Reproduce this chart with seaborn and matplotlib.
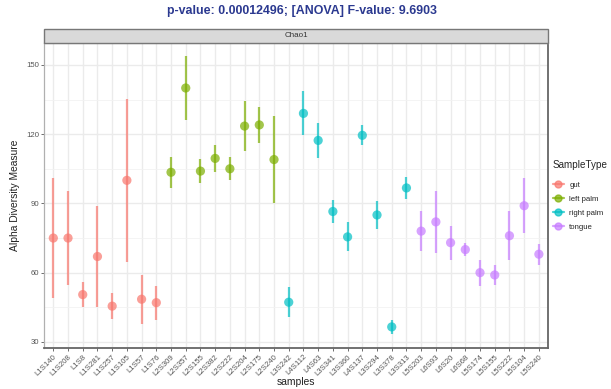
import matplotlib
matplotlib.use("Agg")
import matplotlib.pyplot as plt
from matplotlib.lines import Line2D
from matplotlib.patches import Rectangle
from matplotlib.ticker import MultipleLocator
import numpy as np
import pandas as pd
import seaborn as sns

samples = ["L1S140", "L1S208", "L1S8", "L1S281", "L1S257", "L1S105", "L1S57", "L1S76",
           "L2S309", "L2S357", "L2S155", "L2S382", "L2S222", "L2S204", "L2S175", "L2S240",
           "L3S242", "L4S112", "L4S63", "L3S341", "L3S360", "L4S137", "L3S294", "L3S378", "L3S313",
           "L5S203", "L6S93", "L6S20", "L6S68", "L5S174", "L5S155", "L5S222", "L5S104", "L5S240"]
sample_type = (["gut"] * 8 + ["left palm"] * 8 + ["right palm"] * 9 + ["tongue"] * 9)
chao1 = [75.0, 75.0, 50.5, 67.0, 45.5, 100.0, 48.5, 47.0,
         103.5, 140.0, 104.0, 109.5, 105.0, 123.5, 124.0, 109.0,
         47.2, 129.0, 117.3, 86.5, 75.5, 119.5, 85.0, 36.5, 96.7,
         78.0, 82.0, 73.0, 70.0, 60.0, 59.0, 76.0, 89.0, 68.0]
chao1_se = [26.0, 20.3, 5.5, 21.8, 5.6, 35.3, 10.7, 7.3,
            6.7, 14.0, 5.3, 5.7, 4.9, 10.8, 7.7, 18.9,
            6.5, 9.5, 7.5, 4.9, 6.3, 4.4, 6.1, 3.1, 4.8,
            8.5, 13.4, 7.4, 2.9, 5.7, 4.5, 10.5, 11.8, 4.5]
types = ["gut", "left palm", "right palm", "tongue"]
palette = ["#F8766D", "#7CAE00", "#00BFC4", "#C77CFF"]

df = pd.DataFrame({"samples": samples, "SampleType": sample_type,
                   "value": chao1, "se": chao1_se})
df["pos"] = np.arange(len(df))

sns.set_theme(style="white")
plt.rcParams["font.family"] = ["Liberation Sans", "DejaVu Sans"]

fig = plt.figure(figsize=(6.11, 3.89), dpi=100)
ax = fig.add_axes([0.0728, 0.1062, 0.8236, 0.7833])

alpha = 0.7
colors = dict(zip(types, palette))
for t in types:
    sub = df[df["SampleType"] == t]
    ax.vlines(sub["pos"], sub["value"] - sub["se"], sub["value"] + sub["se"],
              color=colors[t], lw=1.6, alpha=alpha, zorder=3)
sns.scatterplot(data=df, x="pos", y="value", hue="SampleType", hue_order=types,
                palette=palette, s=44, alpha=alpha, linewidth=0, ax=ax,
                legend=False, zorder=4)

ax.set_xlim(-0.6, len(samples) - 0.4)
ax.set_ylim(27.5, 159.5)
ax.set_xticks(df["pos"])
ax.set_xticklabels(samples, rotation=45, ha="right", va="top",
                   rotation_mode="anchor", fontsize=5.6, color="#555555")
ax.yaxis.set_major_locator(MultipleLocator(30))
ax.yaxis.set_minor_locator(MultipleLocator(15))
ax.tick_params(axis="y", labelsize=5.6, labelcolor="#555555", length=2.5,
               width=0.6, color="#555555", pad=1.5, left=True)
ax.tick_params(axis="x", length=2.5, width=0.6, color="#555555", pad=1.5, bottom=True)
ax.tick_params(axis="y", which="minor", length=0)

ax.grid(True, which="major", color="#ebebeb", lw=1.0, zorder=0)
ax.grid(True, which="minor", axis="y", color="#f2f2f2", lw=0.6, zorder=0)
ax.set_axisbelow(True)

for side, sp in ax.spines.items():
    sp.set_visible(True)
    sp.set_color("#b0b0b0" if side in ("left", "top") else "#666666")
    sp.set_linewidth(0.9 if side in ("left", "top") else 1.3)

ax.set_xlabel("samples", fontsize=7.4, color="#222222", labelpad=0)
ax.set_ylabel("Alpha Diversity Measure", fontsize=7.4, color="#222222", labelpad=4)

# facet strip
pos = ax.get_position()
strip_h = 14 / 389
strip = Rectangle((pos.x0, pos.y1), pos.width, strip_h, transform=fig.transFigure,
                  facecolor="#d9d9d9", edgecolor="#777777", lw=1.0)
fig.add_artist(strip)
fig.text(pos.x0 + pos.width / 2, pos.y1 + strip_h / 2, "Chao1", ha="center",
         va="center", fontsize=5.8, color="#333333")

fig.text(0.495, 0.972, "p-value: 0.00012496; [ANOVA] F-value: 9.6903",
         ha="center", va="center", fontsize=8.9, fontweight="bold", color="#2b3990")

handles = [Line2D([0], [0], color=c, lw=1.6, marker="o", markersize=5, alpha=alpha)
           for c in palette]
leg = fig.legend(handles, types, title="SampleType", loc="upper left",
                 bbox_to_anchor=(0.905, 0.588), frameon=False, fontsize=5.6,
                 title_fontsize=7.1, handlelength=1.4, handletextpad=0.7,
                 labelspacing=0.85, borderaxespad=0, borderpad=0)
leg._legend_box.align = "left"
leg._legend_box.sep = 8

fig.savefig("out.png", dpi=100)
